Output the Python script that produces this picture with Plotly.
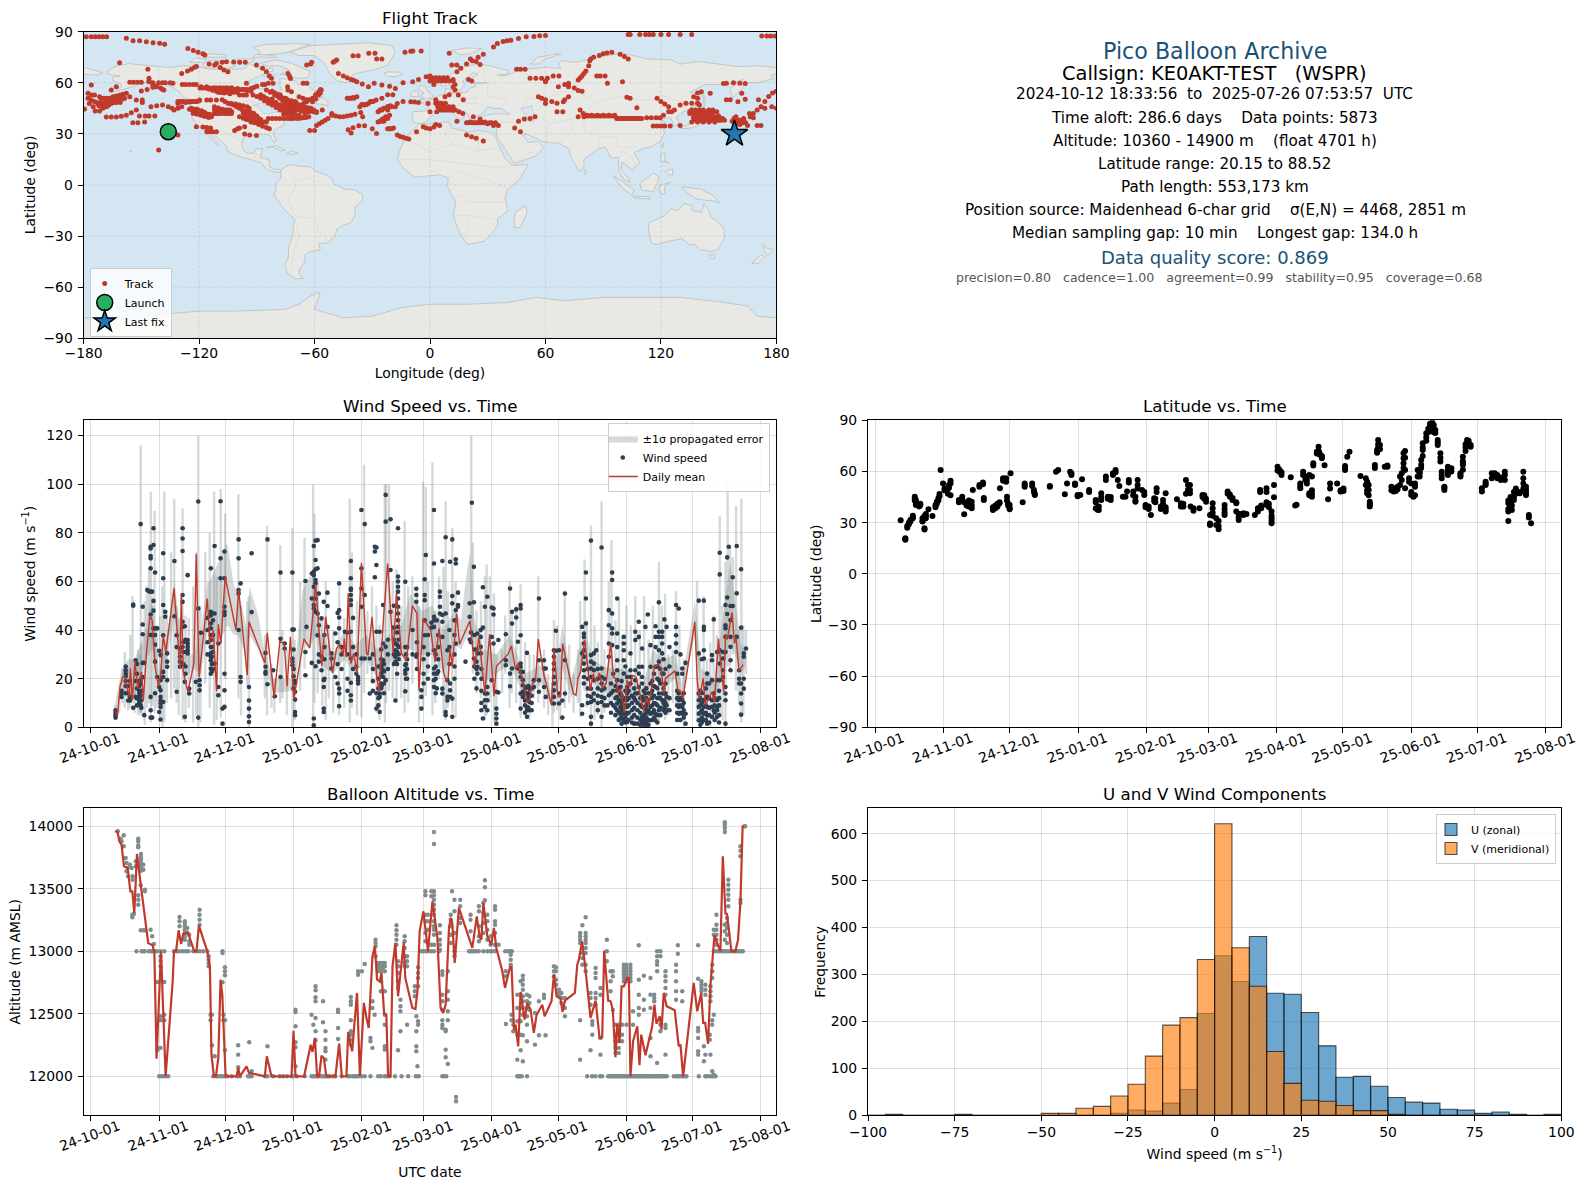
import pandas as pd
import plotly.graph_objects as go

# time series x values are days since 2024-10-01
base_date = pd.Timestamp("2024-10-01")
month_days = [0, 31, 61, 92, 123, 151, 182, 212, 243, 273, 304]
month_labels = ["24-10-01", "24-11-01", "24-12-01", "25-01-01", "25-02-01", "25-03-01",
                "25-04-01", "25-05-01", "25-06-01", "25-07-01", "25-08-01"]

track_points = [
    (-178.6,87),(-176,87),(-174,87),(-172,87),(-170,87),(-168,87),(-157.8,86.1),(-154.3,84.7),(-150.9,84.7),(-147.4,84.1),
    (-143.9,83.5),(-140.5,83.2),(-137.9,82.6),(-125.8,80.2),(-123,78.9),(-120.5,78),(-118,77),(-117,76.3),(-161.3,71.8),(-146.6,67.9),
    (-129,65.5),(-126,66.9),(-124,68),(-122.3,69.2),(-121.4,69.5),(-114.8,71),(-111,71.4),(-108,72),(-105.8,72.4),(-102,72.2),(-98.9,72),(-96,72),
    (-111.9,70.4),(-109,69),(-107,67.5),(-105,66.5),(-90.2,70.4),(-87,68.5),(-85,66.5),(-83.5,64),(-82.4,62.6),(-73.8,65.5),(-73,64),(-72.5,62.5),
    (-64.1,70.4),(-62,71),(-61.5,72),(-48.5,73.4),(-49.5,72.7),(-50.3,72),(-40,75.9),(-37.3,75.9),(-31.8,77.3),(-28.6,77.3),(-27.7,74),(-25,74),
    (-13,77.9),(-10,78.5),(-8.9,78.7),(-4.6,78.6),(-47.6,65.5),(-45,64),(-43,63),(-41,62),(-39.7,61.5),(-38,60.6),(-35.2,59.3),
    (-156,60.3),(-154,60.3),(-152,60.3),(-150,60.3),(-146,62.6),(-146,61),(-144,60),(-141,60),(-139,60),(-137.5,60),(-135,60),(-133.6,59.7),(-176,58.7),
    (-146,60.6),(-144,59),(-142,58),(-140,57),(-139,56),(-138.3,55.8),(-150,55.2),(-147,56),(-144,57.4),(-142.4,57.7),
    (-128.7,59),(-127,59),(-125,59),(-123,59),(-121.5,59),(-119,57.7),(-116,57.7),(-112,57),(-109,57),(-106,57),(-103,57),(-100,56.7),(-97,56),(-95,55.5),(-93,55),
    (-115,56.3),(-113,55.6),(-111,55),(-109,54.5),(-107,54),(-104,53.5),(-99,52.8),(-97,52.8),(-95.4,52.8),(-92,52.8),(-95.4,59.7),
    (-93,56.7),(-91.5,57.3),(-90,58),(-87,59),(-85.9,59),(-84,59.7),(-81.6,59.7),
    (-85,55.8),(-83,54.5),(-80.7,52.8),(-79,52),(-78,50.9),(-76.5,49.5),(-75.5,48),(-74,47),(-73,46),(-71,45),(-69.4,44),(-76,46),(-74.5,45),(-73,44),(-71,43),
    (-69.4,48),(-68,47),(-66,46),(-64,45.5),(-62,45),(-60.5,44),(-59,43),(-56,44),(-61,48.9),(-59.5,50.5),(-58,52.8),(-57,54),(-56.5,55.8),(-61,51),(-64,50),(-66,51),(-68,51.8),
    (-74,57.7),(-73.8,55.8),(-72,54.8),(-65.9,59.7),(-64,59.7),(-82,50.5),(-80,48.5),(-78,47),(-76,45),(-74,43),(-72,42.5),(-70,46),(-67,43.5),(-65,42),(-63,43),(-78,53),(-75,51),(-72,49.5),(-70,49),
    (-177.7,53.8),(-176,52.8),(-174.3,52.8),(-171.7,51.8),(-177.7,50.9),(-176,49.9),(-174.3,48.9),(-172.5,47.9),(-177,47.9),(-175,46),(-179.5,44.6),(-174,43.4),(-171.7,43.4),
    (-170,45),(-168.2,46),(-167,47),(-165.6,47.9),(-164,48.7),(-162,49.5),(-160.4,50.2),(-158.7,50.9),(-156,51.8),(-164.7,51.8),(-163,52.3),(-161,52.8),(-159.5,53.3),(-157.8,53.8),(-165.6,55.8),(-163,57.7),
    (-163,50),(-152.6,49.9),(-149.5,49.9),(-149.5,48.5),(-168.2,39.9),(-165.6,39.9),(-163,39.9),(-160.4,40.3),(-157.8,41),(-155.2,42.4),(-152.6,44),
    (-151,40.5),(-148,40.5),(-146,40.5),(-143,40.5),(-154.4,36.5),(-151.8,36.5),(-148.3,37),(-145,46),(-142,46.5),(-139,47),(-136,46),(-134,45),
    (-131,47.9),(-127,48.5),(-125,48.8),(-123,49),(-120,49.5),(-119.7,49.9),(-133,44),(-131,45),(-129,46),(-124,45),(-122,44),(-120,43.5),(-118,42.5),(-117,41.9),(-116,41.3),(-114.5,40.7),(-113.6,40),
    (-123,42),(-121,41.5),(-119,41),(-117,40.3),(-115,39.7),(-116,49.9),(-114,49.9),(-111,49.9),(-112,46),(-110,45.2),(-108,44.5),(-106,43.5),(-105,43),(-103.2,42),(-111,42),(-109,42.5),(-106.7,43),
    (-103.2,47.9),(-101,47.5),(-99,47),(-97,46.5),(-95,46),(-94,45),(-99,40),(-97,39.2),(-95.4,38.5),(-93,37.5),(-91,36.5),(-89,35.5),(-87,34.5),(-85,33.7),(-83.5,33),
    (-97,42),(-95,41.5),(-93,41),(-91,40),(-89,39),(-84,39),(-82,39),(-80,39),(-78,39),(-76,39),(-74,39),(-72.5,39),(-71,39),(-69,39),(-67.5,39.2),(-66,39.5),(-64.5,39.7),(-63,40),
    (-59,35),(-57.5,36),(-56,37),(-54.5,38),(-53,39),(-51,42),(-51,41),(-49,40.5),(-47,40),(-45,40),(-43,40.5),(-41,41),(-39,41.5),(-36,42.5),(-35,40),
    (-121.4,34.2),(-118,34),(-116,33.8),(-114,33.5),(-116,31.3),(-114.5,31.3),(-113,31.3),(-111,31.3),(-101.5,32),(-100,33),(-99,33.5),(-96.3,34.2),(-96.3,30),(-93.7,29.3),(-90.2,29),
    (-62.5,32),(-60,32),(-42.5,32.5),(-41,30.5),(-40,33.6),(-37,34.8),(-34,34.8),(-30,33),(-27.8,30.3),(-27,43),(-25.5,44),(-24,45),(-22,46),(-20.6,46.5),(-17,47.9),(-14,49),
    (-27,37),(-25,38.5),(-23,40),(-21,41),(-21,33),(-19,33.5),(-32,57.7),(-29,59.7),(-25,58.7),(-21,58),(-18,56.7),(-14,60),(-9,60.6),(-6,62),(-2,63.5),(0,64),
    (-43,50.9),(-40,51.3),(-38,51.8),(-36.5,46),(-34,47),(-32,47.9),(-30,49),(-28,49.9),(-25,50.9),(-22,53),(-19.3,53),(-17,29.3),(-15.5,28.5),(-14,28),(-12.5,27.5),(-11,27),(-7,31.3),(-3.5,34.2),(-10,48.9),(-8,48.7),(-6,48.5),(-1,47.9),
    (-141,20.5),(-131,29.3),
    (33,81),(35,83),(38,84.3),(40,84.7),(42,85),(46,86),(50,87),(54,87.2),(57,87.6),(60,87.8),
    (103,88.4),(104,88.4),(109,88.4),(112,88.4),(114,88.4),(116,88.4),(120,88.4),(124,88.4),(130,88.4),(136,88.4),(172.4,87.5),(175,87.5),(177,87.5),(179.4,87.5),
    (10,77.3),(27.7,76.7),(25,75),(22,73),(19,71),(16,68.5),(14,66.5),(21,74),(24,72.5),(26,70.8),(11.3,70.4),(13.9,70.4),(45,67.9),(47,67.9),(49.4,67.9),
    (52,62.6),(55,62.6),(58,62.6),(61,62.6),(64,64),(67,64),(60,61),(60,60.6),(0,63.5),(4,62.6),(8,62),(12,62),(13,59),(12,57.5),(2,59),(21.7,61),(20,62),
    (66.7,57.7),(70,59),(72,59.7),(72,57.7),(75,57),(79,55),(77,55.5),(56.3,51.8),(58,51),(60,50),(60,47.9),(63.3,49),(66,48),(69.3,48.9),(72,51.8),(70,50),
    (77,61.6),(78,62.8),(79,64),(80,65.5),(81,67),(82.5,70),(83,73),(83.5,74),(85,75),(88,76),(90,77),(92,77.5),(94.5,78),(98.8,76.7),(101,75.5),(103,74),
    (86.7,64),(88.5,64),(91,64),(92.2,59.7),(100,60.6),(102.3,51.5),(104,51),(66,43),(69,43),(107.5,45.4),(118,50.9),(120,49),(122,47.5),(124,46),(125.5,43),
    (78,44),(79.6,42),(80,40),(77,40),(81.5,41),(84,41),(87,41),(90,41),(93,41),(96,41),(99,39),(101,39),(103,39),(105,39),(107,39),(109,39),
    (112.6,39.5),(115,39.5),(117.5,39.5),(119.6,39.5),(116,34.6),(118,34.6),(120,34.6),(122,34.6),(124.8,34.6),(121.3,41),(124,43),(127,44),(130,35),(135,42),
    (130,47),(133,48),(136,48),(139,48),(137,51.8),(139,54),(141,54.8),(145.6,53.8),(139,50.9),(140,47),(140,43),(135,43),(138,43),(141,43),(144,43),(147,43),(149,43),
    (137,40),(140,40),(143,40),(146,40),(149,40),(140,38),(143,38),(146,38),(150,38),(153,38),(136,37),(139,37),(142,37),(145,37),(148,37),(138,41.5),(141,41.5),(144,41.5),
    (152.5,59.6),(154,59.8),(157.7,60),(161,59.8),(163.8,59.6),(162,53.8),(154,50),(156,50),(160,48.9),(163.8,50.3),
    (159,40),(160.5,38),(162,37),(163,39),(160,36.5),(158,39),(157,37.5),(161,35.5),(165,35),(170,35),(172,35),(166.4,40),(168,42),(170,44),(172,46),(174,49),(176,52),(178,54),(180,55),
    (170.7,50),(174,45),(177.6,46),(180,45),(166,42),(168,39.5),(0,43),(3.5,43),(3,50),(5,48),(7,47),(9,45.5),(12,44),(15,43),(17,42),(14.7,52.8),(17.3,50),
    (7.8,51.8),(10,53),(13,55.8),(0,33),(2,34),(5,35),(3,35.5),(-2,33.5),(14,37.5),(21,37),(24,36.5),(27,37),(30,36),(33,35),(35.5,35),(22.5,40),(26,38.7),(28.6,37),
    (19,29.3),(21.6,28.3),(24,27.4),(27.7,25.8),(44,33.5),(47,31.3),(46,37.5),(49,38.7),(52,39),(54.6,40),
]
# thick strokes of the track, latitude then the longitudes seen along it
track_rows = [
    (57,[-119.5,-118,-116.5,-115,-113.5,-112,-110.5,-109,-107.5,-106,-104.5,-103]),(56,[-113,-111.5,-110,-108.5,-107,-105.5,-104,-102.5,-101,-99.5,-98,-96.5,-95]),(54.5,[-110,-108.5,-105.5,-103,-101.5,-100]),
    (44,[-112,-111,-110,-109,-108,-107,-106,-105,-104]),(43,[-111,-110,-109,-108,-107,-106,-105,-104,-103]),(42,[-112,-110.5,-109.5,-108,-106.5,-105.5,-104.5]),
    (44.5,[-125,-124,-123,-122,-121]),(43.5,[-123,-122,-121,-119,-118.5]),(42.5,[-121,-120,-119,-117]),(41.5,[-119,-118,-117,-115.5,-114.5]),(40.5,[-117.5,-116.5,-115.5,-113.5]),(49,[-131,-130,-129,-128,-126,-124,-122,-121]),
    (51,[-171,-169.5,-168,-166.5,-165,-163.5,-162,-160.5,-159]),(48.5,[-173,-171,-169,-167.5,-166,-164.5,-163,-161]),(46.5,[-172,-170.5,-169,-167.5]),
    (37,[-93,-92,-91,-90,-88.5,-87,-86,-85]),(38.5,[-94,-93,-92,-90.5,-89.5,-88]),(40.5,[-96,-95,-94,-92.5,-91.5,-90]),
    (44,[-26,-25,-22]),(46,[-22,-20,-18]),(47.3,[-35.5,-34,-33]),(49,[-31,-29.5]),(51,[-42,-41,-39.5]),(37.5,[-26,-25,-24]),(39,[-24,-23,-22]),(33,[-22,-21,-20]),
    (44,[136,138,140,142,145,147]),(42.5,[137,140,143,146]),(40.5,[138,141,144,147,150]),(39,[137,139,141,143,145,147,150,152]),(38,[138,141,145,148,151]),(36.5,[159,160,161,162,163,164]),(38,[158,159,161,162,163]),
    (40.5,[81,82.5,84,85.5,87,88.5,90,91.5,93,94.5,96]),(39,[97,98,100,102,104,106,108,110]),(44,[5,6,7,8,9,10,11,12,13]),(46,[4,6,8,10,12]),(48,[3,4.5,6,8]),(61,[0,2,4,6,8,10,12]),(63,[1,3,5,7,9]),(36.5,[19,20,22,23,25,26,28,29,31,32,34]),
]
# diagonal streaks over Canada and the north west Atlantic
track_streaks = [
    (-88,53),(-86.5,52),(-85,51),(-83.5,50),(-82,49),(-80.5,48),(-79,47),(-77.5,46),(-76,45),
    (-82,55),(-80.5,54),(-79,53),(-77.5,52),(-76,51),(-74.5,50),(-73,48),(-72,47),(-70.5,46),(-69,45),(-67.5,44),
    (-74,50),(-72.5,49),(-71,48),(-69.5,47),(-68,46.5),(-66.5,45.5),(-65,44.5),(-63.5,44),(-62,43.5),(-60.5,43),(-59,42.5),
    (-57,56),(-58,54.5),(-59.5,53),(-62.5,50),(-64,49),(-65.5,48),(-67,47),(-76,41.5),(-74,41.5),(-72,41),(-70,41.5),(-68,41),
    (-108,50),(-106.5,49),(-105,48),(-103.5,47.5),(-102,47),(-100.5,46),(-99,45),(-97.5,44),(-96,43.5),(-94.5,43),(-93,42.5),(-91.5,42),
    (-90,52),(-88,51),(-86,49.5),(-84,48),(-82,47),(-80,45.5),(-78,44),(-76,43),(-74,42),
]
launch_lon = [-136.0]
launch_lat = [31.3]
last_lon = [158.2]
last_lat = [30.0]

# land outlines, longitude then latitude
land_outlines = [
    [(-168,65.5),(-166,68.3),(-162,70),(-156.5,71.3),(-150,70.5),(-141,69.7),(-135,69),(-128,70),(-120,69.5),(-115,68),(-108,68),(-101,68),(-96,68.5),(-94,71.5),(-90,69),(-86,67.5),(-82,69),(-81.5,67),(-87,65),(-94,61),(-94.5,58.7),(-92.5,57),(-88,56.5),(-82.5,55),(-82,52.5),(-79.5,51.5),(-79,54.5),(-77,56),(-78,58.5),(-78,62.5),(-73,62),(-70,61),(-68,58.5),(-65,60),(-61.5,56.5),(-57,53),(-56,51.5),(-60,50),(-66,50),(-65,48.5),(-65,47),(-61,46),(-64,44.5),(-66,44),(-67,45),(-70,43.5),(-70,41.7),(-74,40.5),(-76,37),(-75.7,35.3),(-78,34),(-81,32),(-81.5,30),(-80,26.7),(-80.5,25),(-81.8,26),(-83,29),(-85,29.7),(-89,30),(-90,29),(-94,29.5),(-97.3,27.5),(-97.8,22.5),(-95.5,18.8),(-91.5,18.5),(-90.5,21),(-87,21.5),(-88,16),(-83.5,15),(-83.5,11),(-81,9),(-79.5,9.5),(-77.4,8.5),(-78,7.5),(-80,7.5),(-83,8.3),(-85.7,10),(-87.5,13),(-92,14.5),(-96,16),(-101,17.5),(-105.5,20),(-105.5,22.5),(-109,26),(-112.5,30),(-114.7,31.7),(-113,28),(-110,24),(-110,23),(-112,25),(-115,28.5),(-117,32.5),(-120.5,34.5),(-122,37),(-124.3,40.5),(-124,46),(-125,48.5),(-123,49.5),(-127.5,51),(-130,54.5),(-133,57),(-137,59),(-141,60),(-146,60.8),(-149,60),(-152,59),(-153.5,58),(-158,56.5),(-163,55),(-160,58.5),(-162,60),(-165,61.5),(-165,63),(-161,64),(-165,64.5)],
    [(-80,73.5),(-72,71.5),(-67,69),(-62,66.5),(-64,63),(-69,62.5),(-74,64.5),(-78,65),(-73,67.5),(-78,70),(-85,70),(-88,71.5)],
    [(-90,76.5),(-85,76.5),(-78,77),(-72,78.5),(-62,82.5),(-70,83),(-85,82.5),(-92,81),(-88,78)],
    [(-117,69),(-105,68.5),(-101,70),(-105,73),(-115,73),(-118,71)],
    [(-125,72),(-118,72),(-116,74),(-122,74.5)],
    [(-92,75),(-80,75),(-81,76),(-90,76.8)],
    [(-100,72),(-93,72),(-91,74),(-100,74)],
    [(-118,75),(-106,75),(-106,76.5),(-115,77)],
    [(-87,64),(-81,63.5),(-80,64.5),(-85,66)],
    [(-59,47.7),(-53,46.7),(-53,49),(-56,51.5),(-59,49)],
    [(-73,78.2),(-68,80),(-62,81.8),(-50,82.5),(-32,83.5),(-20,82),(-18,78),(-20,74),(-22,70.5),(-27,68.3),(-35,66),(-40,65),(-43,60),(-48,61),(-52,65),(-54,69),(-55,71.5),(-60,76),(-68,76)],
    [(-24,65.5),(-22,66.4),(-16,66.3),(-14,65),(-18,63.5),(-22,63.8)],
    [(-10,52),(-6,52),(-6,55),(-8,55.2),(-10,54)],
    [(-5.5,50),(1,51),(1.5,52.7),(-1,54.5),(-2,56),(-2,57.6),(-5,58.6),(-6,56.5),(-3,54),(-4.5,53),(-5,51.7),(-3,51.4)],
    [(11,79),(20,80.5),(27,80),(21,77),(16,76.5)],
    [(52,71),(56,71),(60,74),(68,76.8),(66,77),(56,75)],
    [(-85,22),(-80,23),(-75,20.5),(-77.5,20),(-82,22.5)],
    [(-74.5,18.5),(-72,20),(-68.5,18.7),(-71,18)],
    [(-156,19.5),(-155,19.5),(-155.5,20.2)],
    [(-77.4,8.5),(-75,11),(-72,12),(-68,11),(-62,10.7),(-60,8.5),(-54,5.8),(-51,4),(-50,0.5),(-44,-2.5),(-39,-3),(-35,-5.5),(-35,-9),(-39,-13),(-39,-18),(-41,-22),(-46,-24),(-48.5,-26),(-49,-29),(-53,-34),(-58,-34.5),(-57,-38),(-62,-39),(-65,-41),(-65,-45),(-68,-50),(-68,-52.5),(-65.5,-55),(-70,-55),(-74,-52),(-75.5,-47),(-73.5,-42),(-73.5,-37),(-71.5,-30),(-70.5,-20),(-76,-14),(-81,-6),(-80,-2),(-80,1),(-77.5,4),(-77.5,7)],
    [(-5.5,35.8),(0,35.8),(10,37.3),(11,33.5),(15,32.5),(20,31),(25,32),(32,31),(34,28),(37,21),(39,15.5),(43,11.5),(51,12),(47,4),(40,-3),(39,-8),(40.5,-15),(35,-20),(35,-24),(32.5,-28),(28,-33),(20,-34.8),(18,-33),(15,-27),(12,-18),(13.5,-10),(9,-1),(9.5,4),(5,6),(-4,5),(-8,4.5),(-13,9),(-17,14.7),(-16,20),(-13,27),(-10,31),(-6,35)],
    [(49.5,-12),(50.5,-16),(47,-25),(44,-25),(43.5,-21),(44.5,-16)],
    [(-9,37),(-9.3,39),(-9,43),(-2,43.5),(-1,46),(-4.5,48.4),(-1.5,49),(2,51),(4,52),(8,54),(8,57),(11,56),(10,54),(14,54),(19,54.5),(21,57),(24,58),(23,59.5),(30,60),(23,60),(21,62),(25,65.5),(22,65.8),(17,61),(18,59),(16,56),(13,55.5),(11,59),(6,58),(5,61),(11,65),(16,69),(25,71),(31,70),(41,67),(40,65),(35,64.5),(38,64),(44,66),(44,68),(54,68.5),(60,69),(68,68.5),(67,71),(68,73),(73,72),(75,72),(80,73),(87,75),(100,77.5),(113,74),(125,73.5),(130,71),(140,72.5),(150,71),(160,69.5),(170,70),(180,69),(180,65),(177,64.5),(179,62.5),(170,60),(163,60),(162,56),(157,51),(156,57),(163,62),(155,59),(143,59),(135,54.5),(141,53),(140,48),(132,43),(128,40),(129.5,36),(126.5,34.5),(126,37),(125,39.5),(121,39),(118,39),(122,37),(119.5,35),(122,31),(120,26),(115,22.5),(110,21),(106,19),(109,13),(105,9),(100,13.5),(99,9),(103,4),(104,1.5),(101,3),(98,8),(98,16),(94,16),(91,22.5),(87,21),(80,15),(80,11),(77.5,8),(73,17),(72.5,21),(67,24.5),(61,25),(57,26),(56,27),(50,30),(48,29.5),(51,25),(56,25.5),(59,22),(55,17),(44,12.7),(39,21),(35,28),(34.3,31),(36,36.5),(30,36.2),(27,37),(26,39.5),(29,41),(35,42),(41.5,41.5),(37,45),(33,45),(30,46),(28,43),(26,41),(23,40),(23.5,37),(21,38),(19.5,42),(14,45),(12.5,44),(18,40),(16,38),(10,44),(3,43),(0,39),(-2,37),(-5.5,36)],
    [(-180,69),(-175,67.5),(-170,66),(-173,64.5),(-180,65)],
    [(142,54),(143,50),(142.5,46),(142,50)],
    [(130,33),(132,34.5),(136,36),(140,39.5),(141.5,41),(141.5,38),(140,35),(136,33.5)],
    [(140,42),(142,45.5),(145,43.5),(143,42)],
    [(120,23),(121.7,25),(121,22)],
    [(80,9.5),(82,7.5),(80.5,6)],
    [(120,18),(122,18.5),(122,14),(124,13),(120,14)],
    [(122,8),(126,9.5),(126,6),(124,6)],
    [(109,1),(116,7),(119,5),(118,1),(116,-4),(110,-3)],
    [(95,5.5),(100,2),(106,-3),(105,-6),(100,-2)],
    [(105.5,-6.5),(114,-7),(114.5,-8.5),(106,-7.5)],
    [(119.5,0),(125,1.5),(122,-1),(122,-5),(120,-5.5),(119,-3)],
    [(131,-1),(141,-2.5),(147,-6),(150.5,-10.5),(146,-9),(143,-9),(138,-8),(133,-4)],
    [(114,-22),(113.5,-26),(115,-34),(118,-35),(124,-33),(131,-31.5),(135,-35),(138,-35),(140.5,-38),(146,-39),(150,-37.5),(153,-31),(153,-26),(149,-21),(146,-19),(145,-15),(142.5,-11),(141,-16),(136,-15),(136.5,-12),(132,-11),(129,-15),(125,-14),(122,-18),(118,-20)],
    [(145,-41),(148,-41),(148,-43),(146,-43.5)],
    [(173,-35),(175,-37),(178.5,-38),(175.5,-41.5),(174,-39.5)],
    [(172,-41),(174,-42),(170.5,-46),(167,-46)],
    [(-180,-90),(180,-90),(180,-78),(170,-77),(165,-71),(150,-68.5),(130,-66),(110,-66),(90,-66),(70,-68),(55,-66),(40,-69),(20,-70),(0,-70),(-15,-72),(-30,-77),(-45,-78),(-60,-73),(-57,-63),(-62,-65),(-68,-70),(-75,-73),(-100,-74),(-120,-74),(-140,-76),(-160,-78),(-180,-78)],
]
# inland seas, painted back in ocean colour
sea_outlines = [
    [(47,45),(53,46.5),(54,40),(54,37),(49.5,37.5),(50,40.5)],
    [(-92,47),(-85,48.5),(-80,45),(-76,44),(-79,43),(-83,42),(-87,42),(-88,45)],
]
# faint national borders
border_lines = [
    [(-141,69.7),(-141,60)],[(-123,49),(-95,49),(-88,48),(-83,46),(-82,42.5),(-76,44),(-70,46),(-67,45)],
    [(-117,32.5),(-108,31.5),(-103,29),(-97.5,26)],[(-92,14.5),(-90,18),(-88,18)],[(-70,-18),(-60,-20),(-58,-27),(-53,-33)],
    [(-70,-18),(-74,-8),(-70,-2),(-70,2),(-60,5),(-60,8.5)],[(-70,-20),(-68,-30),(-71,-40),(-72,-50)],
    [(10,37.3),(8,30),(12,24),(25,20),(25,32)],[(-13,27),(0,20),(12,24)],[(25,20),(37,22)],[(-17,14.7),(0,15),(15,13),(24,12),(34,10),(43,11.5)],
    [(9.5,4),(15,8),(24,5),(30,3),(41,-2)],[(13.5,-6),(22,-10),(30,-10),(39,-10)],[(12,-18),(22,-18),(33,-20)],[(20,-18),(20,-28),(17,-29)],
    [(-2,43.5),(3,43)],[(2,51),(8,49),(8,46),(14,47),(17,48),(23,48),(30,46)],[(14,54),(15,51),(24,51),(24,54),(21,55)],[(30,60),(30,52),(40,50),(38,47)],
    [(27,70),(29,62),(28,60)],[(47,42),(50,51),(60,51),(70,55),(77,54),(87,49),(98,52),(107,50),(117,50),(120,53),(127,50),(135,48),(131,43)],
    [(87,49),(80,42),(74,39),(67,37),(61,36),(61,30),(61,25)],[(80,42),(80,32),(88,28),(97,28),(98,22),(102,22),(106,23),(108,21.5)],
    [(74,39),(74,33),(70,28),(68,24)],[(88,28),(88,22)],[(44,37),(46,33),(48,30)],[(36,36.5),(42,37),(44,37),(48,39)],[(44,12.7),(52,19),(56,24)],[(98,16),(100,20),(105,16),(107,11)],
]

wind_columns = [
    (11.3,[7,6,5,4]),(14,[15,14,12.5]),(15.9,[25,23.5,22,21,19,17,14]),(17,[17,14,11]),(17.8,[19,12.5,11]),(19.3,[50,50.5,8]),(20.4,[27.6,19,12.5]),
    (22,[19,17,15,14,12.5,11,10.5,10]),(22.7,[83.6,18,13,9]),(23.6,[49.6,42.3,38.3,26.5,20.7]),(24.3,[26.5,5]),(25.7,[56.5]),(26.4,[56]),
    (27.2,[55.8,46.4,65.4,69.5,70.5,73.6,74.3,38,12.5,7,4]),(27.9,[55.8,38,4]),(28.5,[81.9,75,52,48,40.7]),(29.2,[63.7,40.7,38,34,27,14]),(30.2,[40.7,20.7]),(31.1,[31.5,16.6,6.3]),
    (31.7,[29.7,19.4,15.2,12.5,11,9.8,8.4,3.2]),(32.9,[71.6,61.3,50.3,37.9,22.8,20.7,10.4]),(33.8,[47.5,45.5]),(34.7,[30.4,27,24.9,19.4]),(38,[68.4,45.7]),(39,[37.9,33,14.6]),(40.5,[32.4,29,27,24.9]),
    (41.7,[81.9,77.7,72.5,54.4,51.6,43.4,41.3,33]),(42.7,[41.6,18.7,4.3]),(44,[62.6,35.9,34.5,33,31.7,30.4]),(44.7,[15.9,13.9]),(47.7,[18.7]),(48.8,[92.9,48.9,4]),(49.4,[19.4,17.3,15.2]),(50,[38.9]),
    (54.5,[65.4,47.5,46.8,46,42.7,40.7,37.9,35.9,33,30.4,29,27.6,24.2,22]),(56.2,[74.6,46.8,26.2]),(57.9,[34.5,16.6,13.2]),(58.9,[93,69.5,61.3]),(59.8,[7.7,1.5]),(60.7,[72.3,61.3,49.6,47.5,46.2,22,15.2,8.4]),
    (67.1,[77.3,69.5,56.5,55,40]),(68,[59.2,20.7,18.7]),(71.8,[16.6,11,7.7,4.5,2.2]),(73,[71.6,47.4]),(79.3,[30.6,24.9,22.8,22]),(80.2,[77.3,17.7]),(82.8,[23.5]),(83.5,[12.8]),(86.1,[63.7,36.4,20.7]),(88,[34.5,32.4]),
    (91.5,[63.7,40.2,28.3,27,25.5]),(92.1,[40.2]),(92.7,[18,14.6,11.4,6.3,5,19]),(97.4,[60.2,31,21.4]),(97.9,[41.3]),(100.3,[53,63.3,26.5]),(101.2,[74.6,64,62.6,57.8,50.3,48.9,3.6,0.8]),
    (102,[76.8,68.8,65,60.6,59.2,53,47.5,25.1]),(102.9,[77,65.4,46.8,37.9]),(104.7,[44.8,29,23.5]),(105.7,[51.6,19.4,16.6,7.7,6.3]),(107.4,[55.4,49.9,41.3]),(109.2,[30.4,28.3,24.2]),(111,[38.6,20.7]),
    (112.7,[59.2,48.2,45.2,40.7,15.9,13.9,8.7]),(115.3,[39.3]),(118,[68.4,61.3,57.1,56.5,54.4,52.3,50.3,39.3,28.3,18.3,13.2,11]),(121.3,[20.7,19.4,18]),(122.8,[89.4,65.4,57.1,49.6,28.3]),(124.3,[83.6,54.4,28.3]),
    (126.6,[28.3,13.9]),(128.9,[74.3,72.3,61.7]),(129.6,[66.8,74,39.3,14,7.7]),(131.1,[39.3,13.9,12.5,6.3]),(132.6,[50.3,34.5,27.6,23.5,20.7]),(133.8,[95.6,84.6,33.1,19.4]),(136,[85.6,64.7,47.5]),
    (138.2,[34.5,31.7,29,27,11]),(139.4,[81.9,62,60,57.8,55.8,53,49.6,46.8,44,41.3]),(142.7,[59.9,33,25.5,23.5,22,14.8]),(147.7,[57,54.4,51.6,29]),(150,[15.2,12.5,7.7]),(151.5,[60.9,54.4,52.3,44,37.9]),(152,[70.9]),
    (154.5,[43,41]),(155.7,[89.4,67.4,45.5,44,41.3,31.7,24.2,22.1,19.4,16.6]),(158.4,[55.8,53.7,49.6,46.8]),(159.5,[68.4,46.2,43.4,37.2,15.9,13.9]),(161,[78.2,46.8,6.3,5]),(161.8,[31.7,19.4,12.5,11]),(163,[68.1,18,15.2,12.5]),
    (164,[77.3,54,51,11.8,4.3]),(165.6,[69.1,67.4,48.2,34.5]),(166.6,[55.4,50.3,49.6]),(171.9,[51,45.5,36.1]),(172.9,[92.4]),(173.8,[66,51.4,28.3]),(175.4,[38.6,30.4,24.9,22.1]),(176.9,[40,37.2,33.1,30.4]),(177.9,[57.6,41,3.6]),
    (178.8,[49.6,13.9,11.1,8.4]),(179.9,[53.7,16.6,13.9,11.1,7]),(181.9,[49.3,37.2,19.4]),(182.7,[48.9,46.4,34.5]),(184,[14.6,7.7,5.6,3.6,1.5]),(184.9,[35.9,14.3]),(188.3,[38.3,27.6,25.5]),(190.2,[57.1,22.1,16.9]),(191.1,[47.5,42.7,24.2]),
    (193,[45.2,48.5]),(193.8,[35.2,24.2]),(195,[50.3,48.9,37.9,26.2,24.9,22.8,20.7,13.9,7.7]),(196,[22.8,19.4,17.3,14.6,12.5]),(197.9,[30.6,16.6,13.9,11.1,8.4,7,4.3]),(199,[15.9,13.2,10.4,7]),(201,[19.4,16.6]),
    (203.3,[53,27.6,19.4,14.6]),(205.6,[27.6,24.2,16.6]),(206.4,[24.2,12.5]),(210.1,[31.7,29,26.2,23.8,20.7,18,15.2,12.5,9.8]),(211,[39.7,31.5]),(212.4,[31.7,13.9,9.8]),(213.9,[11,4]),(215.1,[55,27.6,13.9]),
    (222.9,[41.3,30.4,9.1,5.6]),(223.7,[38.6,37.2,34.5,31.7,29,26.2,23.5,20.7,18]),(224.6,[63.7,53,42.7]),(226.9,[76.8,29.7,27,24.2,20.7,15.9,12.5,10.4,4.3,1.5]),(228.2,[30.4,26.2,23.5,19.4,13.9,11.1]),(229.3,[31.7]),
    (231.7,[74,24.2,20.7,18,15.2,12.5,10.4,4.3]),(234.3,[9]),(235,[48.2,42,34.5,29,13.2]),(236.5,[63.7,60.6,46.8,40.7,38.6,33.8]),(238.8,[53,38.6,33,27.6,23.5,19.4,15.2,12.5,9.8,7]),(240.3,[16.6,13.9,11.1,8.4,5.6,3.6]),
    (241.8,[37.2,34.5,31.7,27.6,22.1,11.1,8.4,5.6,2.9]),(243.3,[20.7,16.6,13.9,11.1,8.4,5.6,2.2]),(244.8,[30.4,23.5,20.7,18]),(247,[39.3,35.9,23.5,19.4,13.9,11.1]),(248.6,[43.4,37.2,24.9,22.1,16.6]),
    (250.1,[32.4,24.9,20.7,18,12.5,8.4,4.3,2.2]),(251.6,[41.3,13.9,8.4,5.6,2.9,1.5]),(252.7,[46.4,10,6,3]),(253.9,[33.8,24.9,18,13.9,8.4,5.6,2.9]),(256.2,[41.6,37.2,33,24.9,16.6,9.8,5.6,2.9]),(257.7,[51.4,39.3,37.2,31.7,27,19.4,13.9,7]),
    (259.2,[39.3,37.2,34.5,30.4,22.1,13.9,11.1]),(260.2,[44.4,13.9,11.1,8.4]),(261.2,[41.3,12.5,9,7]),(265.5,[50.3,41.3,37.9,34.5,31]),(266.7,[48.9,13.9,11.1,8.4,5.6]),(268.3,[24.2,22,11.1,8.4,5.6]),(269.8,[26.5,5.6,1.5]),
    (275.8,[52.1,30.4,13.9,11.1,8.4,5.6,2.9]),(278.1,[52.1,41.3,40,31.7,28.3,11.1,8.4,5.6,2.9]),(279.6,[22.1,18,12.5,8.4,4.9,1.5]),(281.8,[29.7,27.6,19.4,11.1,8.4,4.3]),(282.6,[44.4,13.9,11.1,7]),(284.1,[31,19.4,11.1,8.4,7,4.3]),
    (285.3,[71.8,62.9,31.7,26.2,19.4]),(286.8,[31,28.3,23.5,20.7]),(287.9,[50.3,42,40.7,37.2,31,16.6,13.9,11.1,1.5]),(288.7,[69.9,53.4,46.6]),(289.4,[74.3]),(290.2,[49.9,44.1,37.2,33.1,27.6,23.5]),(291.2,[61.7,49.9]),
    (293,[74.6,55.1,37.2]),(294.1,[23.5,20,18]),(295,[65,41,18,13.9,9.8,5.2]),(296.2,[30.4,29,20,15.9]),(297.2,[32.4]),
    (236,[18,14,10,6]),(237,[22,15,9]),(238,[17,12,8,5]),(239.5,[16,11,6,3]),(240.8,[19,13,10,7,4,1.5]),(242.5,[25,15,12,9,6,4,2]),(244,[15,12,9,6,3]),(245.5,[13,10,7,4,2]),(246.5,[16,12,8,5,1.5]),(248,[14,10,7,4,1.5]),(249.3,[12,9,6,3,1]),(250.8,[15,11,8,5,3,1]),(252,[16,12,9,7,4,2,1]),(253,[14,11,7,3,1]),(254.7,[19,15,12,9,6,3]),(255.5,[22,17,13,10,7,4]),(257,[25,20,16,12,9,5,2]),(258.3,[24,18,12,8,5]),(259.8,[28,22,16,10,7]),(260.7,[24,18,14,10,6]),(262.5,[33,25,12,7]),
    (266,[22,15,12,9,6,3]),(267.5,[30,12,9,6,3]),(269,[14,10,7,4]),(276.5,[15,12,9,6,3,1]),(277.2,[28,14,10,7,4,2]),(279,[16,12,9,6,3]),(280.5,[18,12,8,5,2]),(283,[12,9,6,3]),(285,[15,12,9,5,2]),
    (225.5,[24,20,16,13,10]),(230,[24,20,16,13,10,7]),(233,[20,16,12,9]),(197,[16,14,11,9,6]),(198.5,[17,14,12,8]),(200,[16,13,10,7]),(156.5,[30,25,20,14]),(157,[44,22,16]),(174,[38,32,25,20]),(175,[32,27,24,16]),(177.2,[24,20,15,10,7]),(21,[26,22,16,12,9]),(23,[20,15,11,8]),(43,[36,31,25,22]),(55,[38,33,29,26,23]),(133,[26,23,18,14]),(130.5,[25,20,16,12,9]),(128,[30,24,19,15]),(143.5,[33,28,24,20]),(139,[39,34,31,26,22]),
    (42,[35,31,26]),(53,[45,40,35,30]),(55.5,[44,38,31,24]),(92,[32,24,21,16]),(103.5,[55,42,30,27]),(106,[38,33,28,20]),(112,[47,35,26,18]),(113.8,[33,30,24]),(116.5,[39,30,20,15]),(119,[45,33,24]),(120.5,[30,25,22]),(131.8,[32,28,25,22,18,16]),(132,[26,24,21,17]),(134.8,[36,30,24]),(137.5,[50,41,36,30,26]),(139.7,[36,33,30,28]),(143,[30,26,20]),(146,[40,30]),(148,[35,30,24]),(151,[33,28,22,18]),(153,[38,30,25,20]),(157.6,[38,33,28,23]),(162.7,[40,33,26]),(165,[44,38,30,25,20]),(170,[27]),(172.5,[39,35]),
]
wind_mean_day = [11,12.2,13.3,14.5,15.3,16.8,17.5,18,18.9,20.1,21.3,23.1,23.9,25.4,26.9,27.9,29.2,30.7,31.7,32.9,34.1,37.8,39.4,40.5,41.1,42,44.1,46.8,47.9,49.2,52.9,54.1,55.6,57.1,57.9,59.1,61,65.9,67.1,71,71.8,79,80.1,83.2,85.8,87.8,89.1,90.6,92.1,96.7,99.4,102,104.8,106.6,109.7,111.5,113,114.5,115,115.9,116.8,118,119.3,120.8,122.8,125.1,125.8,127.6,129.6,130.8,132.9,134.7,137.2,138.7,140.9,143.2,145.9,148,148.9,150.8,154.2,156.2,158,160,161.3,162.2,163,164,166,167.3,172,174.1,176.1,178.8,180.9,182.9,184,189.3,190.8,192.7,193.8,197,198,199.1,200.3,201.8,203,205.6,209,210.1,211.9,213.1,214,216.1,218.9,220.1,221,222.2,224,226.7,227.9,229,230.8,232,233.8,235.9,237.1,238.2,239.1,240.3,242.1,243.3,244.4,245.9,247.4,250.9,252.1,253.1,255.7,257.7,258.7,260,260.7,265,266.3,267.5,268.6,274,275.1,276,277.8,278.8,281.8,282.9,284.7,287.1,287.9,288.7,290.9,292,292.7,294,295.9]
wind_mean_val = [7,4.9,16.6,20.7,21,15.9,12.5,24.2,11.1,27.6,15.9,22.8,11.1,31.7,45.7,44.1,24.9,16.9,20.7,37.9,31,57.2,35.9,24.2,54.7,22.8,14.5,26.2,71.3,20.7,53,34.5,40,14.8,42.4,34.5,62,40,56.7,21.4,43.4,26.5,38.9,12.5,35.3,34.5,16.9,37.2,11.4,36.4,32.7,58.9,25.1,45.5,22.4,32.4,34.2,29.7,36.5,29,55.1,26.2,30.4,22.1,67.7,30.4,29.7,45.5,22.1,14.5,46.1,67.4,30.4,55.1,30.4,27.7,50,46.8,15.2,44.8,40,26.9,40.7,22.8,19,20.7,32.4,24.9,46.8,34.2,43.8,24.9,37,13.9,38.3,12.8,25.1,30.1,33.5,23.8,26.5,13.9,10.7,11.1,18,19.4,36.3,21.4,9.1,32.4,12.5,12.5,34.5,25.5,13.9,13.2,20.1,22.8,35.9,15.2,22.1,18.7,22.4,15.9,18,34.8,20.5,20.1,13.9,15.9,6,19.4,16.6,21.4,20.7,6.3,12.2,9.1,24.9,25.8,24.2,13.9,20.1,23.2,15.2,15,11.8,43.4,19.4,11.8,20.1,9.1,14.6,10.4,36.5,14.6,38.3,36.1,47.3,34.5,37.2,23.2,25.8]
# propagated error stripes: day, low, high
band_rows = [
    (11,3,9),(13,6,13),(14.5,10,24),(15.5,8,31),(17,7,25),(18,8,38),(19,10,54),(20,6,26),(21.5,5,32),(22.3,6,30),(22.7,5,116),(23.1,6,34),(24.5,1,52),(25.5,8,58),(26.5,10,66),(27.3,2,97),(28,9,50),(29,6,89),(30,8,42),(31.5,4,46),(32.5,0,58),(33.4,2,97),(34.5,10,48),(36.5,12,72),(37.9,16,94),(39,10,50),(40,5,45),(41.7,3,90),(43,2,46),(44.5,8,45),(46.5,2,58),(47.9,5,72),(48.8,0,120),(49.8,2,50),(52,18,72),(54,8,80),(56,1,97),(57.2,3,62),(59,4,98),(61,20,88),(67,12,96),(68.2,5,50),(71,17,52),(71.8,0,54),(79,12,38),(80,5,83),(82,8,26),(83.3,6,20),(86,10,75),(87,12,40),(89,5,32),(91.5,0,82),(92.5,3,36),(95,15,60),(97,24,78),(100.9,0,100),(101.5,10,88),(103,14,60),(105,9,44),(106.6,3,60),(108,12,42),(110,6,40),(112.7,5,58),(115,8,45),(117.5,2,94),(118.5,8,72),(120.8,5,52),(122.8,4,60),(124,14,108),(125.5,22,48),(127.6,18,58),(129.6,6,50),(131,3,42),(133.4,2,100),(134,10,100),(135.3,15,100),(137,12,60),(138.7,10,65),(140.9,12,50),(142.4,6,85),(144,10,58),(145.9,18,62),(148,24,56),(148.9,2,50),(150.8,8,101),(152,13,99),(153,22,60),(155,5,109),(156.3,10,48),(158,20,62),(160,5,66),(161,3,93),(162,8,56),(164,6,82),(165.5,4,60),(172.6,40,120),(173.3,22,76),(175,14,48),(177,12,52),(178.8,3,62),(179.6,5,67),(181,10,62),(182.9,2,55),(184,7,30),(186.6,14,32),(188,22,46),(190,8,60),(191,14,48),(193,10,50),(195,4,59),(197,6,35),(199,3,30),(201,12,30),(203,10,62),(205.6,8,32),(207.5,5,22),(209.4,0,18),(210.1,6,44),(211.5,7,42),(213,3,30),(215,8,56),(217,10,34),(219,6,22),(221,10,32),(222,4,52),(224,15,69),(225,8,44),(226.9,0,83),(228.5,3,42),(230,5,35),(231.7,0,93),(233,6,32),(235,8,60),(236.2,10,77),(238,4,44),(239.6,2,53),(241,0,38),(243,0,50),(245,4,42),(247,2,54),(249,3,40),(251,0,54),(253,0,36),(255,2,50),(257.7,2,68),(259,4,50),(260.5,3,55),(262,5,30),(264,10,32),(265.5,8,56),(267,2,42),(269,0,28),(275,2,60),(276,2,30),(278,2,54),(279.5,1,28),(281,0,35),(282.5,2,46),(284,2,38),(285.3,6,87),(286.5,3,50),(287.9,0,68),(288.9,25,100),(290,24,75),(291.2,30,70),(292.7,15,91),(294,10,40),(295.1,2,94),(296,5,42),(297.2,22,40),
]
# error band body where the samples are sparse: day, low, high
band_body = [
    (11,4,9),(14,14,24),(17,12,28),(20,12,28),(25,28,40),(28,32,55),(31,14,22),(35,30,40),(38,45,60),(42,20,30),(47,24,30),(50,22,40),(53,40,60),(54,30,60),(57,35,66),(60,38,72),(62,42,76),(65,38,58),(67,38,56),(71,28,40),(72,38,58),(76,32,46),(79,24,30),(83,14,20),(92,15,20),(96,36,56),(99,32,62),(102,38,62),(105,25,38),(110,22,30),(115,28,40),(120,22,34),(125,28,38),(130,20,32),(137,28,40),(141,30,42),(145,32,55),(150,30,48),(155,30,50),(160,22,40),(165,34,48),(168,32,44),(170,36,60),(172,38,72),(174,30,44),(178,18,32),(184,22,30),(190,26,38),(197,12,22),(205,18,26),(209,8,14),(214,24,42),(218,12,20),(224,28,40),(228,18,28),(232,15,25),(238,12,24),(243,12,24),(250,8,16),(255,20,32),(260,16,28),(265,20,30),(268,12,18),(274,38,52),(277,14,24),(283,12,20),(286,20,40),(290,36,68),(295,22,34),(297,25,32),
]

lat_columns = [
    (11.6,[31.4]),(13.7,[20.8,20,20.4]),(14.6,[28,27]),(15.3,[29,30]),(16,[30.6,31.5]),(17.1,[32.5,34,33]),(18,[45.2,44,43]),(18.5,[43.3,41.5,40.4]),(20,[40.4,39.5]),(20.5,[40.4,41]),(21.5,[32.5,31,30.6]),(22.4,[33.9,32.5,26.7,26]),(23,[33.9,32.5,35]),(24.2,[37.8]),(26,[33.9]),
    (27.4,[40.4,39]),(28,[42.3,41]),(28.7,[44.3,43]),(29.2,[46.8,45.5]),(29.7,[60.9]),(30.8,[53]),(31.5,[50,49]),(33,[50,47]),(33.5,[52,50.5]),(34.2,[54.6,53,46]),(38,[43.3,42]),(39.5,[45.2,43.5]),(40.4,[34.9,42]),(41.5,[41.3,40]),(42.5,[39.4,41,43]),(43.8,[42.3,38.5,40]),(44.3,[49.2]),
    (47.3,[52,51]),(48.9,[53.5,52.5]),(49.3,[43.3,44.5]),(53.4,[37.4,39]),(54.5,[38.5,40]),(55.5,[39.4,41]),(56.4,[41.3,42]),(56.6,[50.1]),(58,[56,54.5]),(59.4,[54,56]),(59.8,[45.2,43]),(60.3,[41,40]),(61,[40.4,37.8,38.5]),(61.4,[58.9]),(66.9,[41.9]),(67.8,[53,51,52]),(71.2,[53,51.5]),(72,[49.2,48]),(72.4,[46.2,47]),
    (79.2,[51.5,51]),(82,[59.9]),(83,[60.9]),(86,[46.6]),(87,[53]),(88.4,[59.9]),(89,[58,59]),(90.6,[53,52]),(91.8,[46.2,45.5]),(93,[46.2]),(93.8,[55.4]),(97,[49.2,48]),(100,[43.3,42,38.4]),(100.8,[37.5,38.5]),(101.4,[39.4,37.4]),(102.5,[47.2,45,43.3]),(104.6,[57,55]),(105.5,[45.2,44]),(106.8,[43.3,45]),
    (107.8,[58.9,58]),(109,[60.9,59.5]),(110,[55]),(110.7,[51.5]),(112.3,[45.2]),(113.5,[45.2]),(114.2,[48.2]),(115,[55,53.5]),(117,[48.2,46]),(118,[45.2,43,42.3]),(119,[55,52,50]),(121,[49.2]),(122,[46.2,48]),(122.6,[40.4,39]),(124,[38,39.5]),(125,[34.5]),
    (126.5,[44.3,42.5]),(127,[42,44]),(127.6,[50.1,48]),(129.5,[39.4,38]),(130.5,[43.3,41]),(131.7,[47.2,36.5,37.5,39]),(136.8,[43.7]),(138.6,[41.3,39.4]),(139.7,[39.4,41]),(140.9,[55,47]),(141.8,[52,49.2]),(142.7,[47.2,49.2,52]),(143,[39.4]),(144.3,[37,38.5]),(147,[38.4]),
    (148.4,[46.2,45]),(149.2,[44,46]),(150,[42.3,44]),(151.8,[34.5,28.6,29.5]),(153,[41.3,38.4,36,34]),(154.6,[32.5,28.6]),(155.7,[26.1,28,31]),(158.4,[34.5,40.4,36,38]),(159.8,[48.2,47]),(160.8,[45.2,46.5]),(162,[43.3,44.5]),(163.7,[41.3,36.5,42]),(164.8,[31.6,33,35]),
    (166,[35]),(167,[34.5,35.5]),(168.3,[35]),(172.1,[34.5]),(173.5,[38.4,36.5]),(174.5,[49.2,48]),(175,[38.4,40]),(177.4,[50.1,48,40.4,42]),(178.5,[39,41]),(179.7,[29.6,32.5,36.5,31,34]),(180.8,[44.9,52]),(182.4,[62.8,60.5]),(183.3,[59.9,61]),(184.2,[58,59.5]),(188.4,[56.6]),(190.4,[40]),(191,[40.5]),
    (192.7,[53,50.1,51.5]),(194,[59.9,58]),(195,[55,57]),(195.7,[55,53]),(196.8,[58,47.2,46]),(198,[57,45.2,47,49]),(198.6,[64.8,63.5]),(200.2,[71.6,70.5]),(201,[74.5,72]),(201.4,[71,70]),(202.5,[67.7,69]),(203.7,[63.6]),(205.3,[43.7]),(206.2,[53,50]),(209.4,[53]),(211,[48.2,49]),(212.3,[50,48.5]),(213,[60.9,63.2,62]),(214,[68.7]),(215,[71.6]),
    (220,[57.4]),(222.4,[56,52]),(223,[54,47.2,49]),(223.7,[52,49.2,46]),(224.2,[40.4,42.3,41,39.5]),(226.5,[63.8,62]),(227.5,[72.6,71]),(228,[78.5,76,74]),(228.8,[75.5,73]),(231,[62.8]),(232.2,[62.8,63.5]),(234,[51,49]),(235,[48.2,50]),(236,[50,48.5]),(236.8,[51,49.5]),
    (237.9,[57,52]),(238.7,[59,55]),(239.5,[70.7,67.7,64.8,62]),(240.2,[60.9,50.1,68,72]),(242,[56,54]),(243,[46.2,48,53]),(244,[45.2,46]),(244.7,[53,46,51]),(245.9,[60.9,57]),(246.8,[57,60,59]),(247.5,[66.7,64,62]),(248.2,[72.6,76.5,69,74]),
    (249.8,[82.4,80,78]),(250.7,[85,83]),(251.5,[86.3,88,84]),(252.5,[88.8,87,85]),(253.2,[87.3,85,83]),(253.9,[84.3,82.5]),(255,[78.5,75.5,77]),(256.2,[70.7,65.8,68]),(256.8,[59.9,56,58]),(258,[51.1,49.2,50.5]),(259.6,[60.9,58,62.8,59.5]),(261.2,[61.9,60]),
    (265.3,[58,59,57]),(266.4,[63.8,68.7,61,65,66]),(267.6,[72,74,76]),(268.3,[78.5,76.5]),(269,[76.5,78]),(269.9,[74.5,75.5]),(275,[50.1,48.2]),(276.7,[52,54,53]),(279.5,[58.9,56]),(280.8,[58,59]),(282,[56,58]),(283.6,[55,56.5]),(285.4,[59.9,55,58]),
    (287,[41.3,38,36.5,31,43]),(288,[40,37.5,42,45]),(288.6,[37.4,40,44]),(289.5,[43.3,45,48]),(290.4,[49.2,47,50]),(292.2,[47.2,48]),(293.8,[59.9,53,56,50]),(295,[49.2,46.2,51,47.5]),(296.3,[34.5,33]),(297.3,[29.6]),
]

alt_columns = [
    (12.3,[13960]),(13.6,[13901]),(14,[13880]),(15,[13928,13840]),(15.9,[13747]),(16.3,[13707,13640]),(16.8,[13667]),(17,[13600]),(17.8,[13693]),(18.6,[13667]),(18.9,[13293,13272]),(19,[13600,13573]),(19.6,[13299]),(20.5,[13720,13680]),
    (21.6,[13901,13880,13848,13832,13448,13413,13373]),(22.7,[13528,13168]),(22.8,[13779,13752,13733,13707,13688,13667,13645]),(23.9,[13693,13653,13168]),(24.6,[13493,13480,13168]),(27.2,[13173]),(27.9,[13120]),(28.7,[13059]),
    (30.2,[12208,12755]),(30.4,[12227]),(31.7,[12960,12925,12880,12480,12448,12227]),(33.4,[12755,12493,12448]),(40.3,[13275,13240,13200]),(42.7,[13240,13227,13200,13173,13147,13120,13093]),(43.8,[13187,13147]),(44.7,[13133,13080,13053]),(49.4,[13333,13293,13253,13213]),
    (53.5,[12960,12933,12907,12880]),(54.4,[12493,12448]),(55,[12493,12248]),(56.3,[12160]),(59.8,[12987,12752]),(60.2,[12493,12448]),(60.9,[12872,12840,12808,12448,12208]),(66.9,[12248,12173,12072]),(71.9,[12272]),(73,[12040]),(80.2,[12240]),
    (92.9,[12533,12515,12400,12232,12272,12080]),(100.2,[12493]),(101,[12413]),(102,[12720,12688,12632,12600,12467,12360,12288]),(105.4,[12600,12432]),(106.5,[12360,12293,12227,12200,12133]),(112.2,[12299,12387,12533,12515]),(118,[12635,12600,12573,12448,12360,12333,12293,12253]),
    (121.3,[12840,12813]),(123,[12840]),(124.3,[12899]),(126.9,[12307,12280]),(127.8,[12600,12547,12227]),(128.8,[12493]),(129.2,[13093,13067,13040,12960]),(130.4,[12907,12880,12853,12840]),(131.6,[12907,12880,12853,12840,12760,12680]),(132.6,[12907,12880,12853]),(133.4,[12907,12880,12840,12680,12493,12413,12240,12213]),
    (138.7,[13208,13168,13133,13093,13053]),(139.4,[12920,12880,12827,12760,12707,12208]),(140.5,[12613,12560,12520,12360]),(142.4,[13120,13080,13027,12960,12907,12880]),(143.5,[12960,12920,12880,12413]),(147,[12720,12680,12640]),(147.7,[12480,12360,12240,12200]),(148.2,[12080]),(148.5,[12872,12827,12787,12720,12440,12413]),
    (151.8,[13480,13448,13293,13240,13147,13080]),(153,[13293,13240,13173]),(154.5,[13480,13440,13053]),(155.7,[13955,13859,13480,13448,13413,13373,13333,13293,13240,13200,13173,13133,13053]),(158.4,[13208,13147,13093,13053,13013]),(159.5,[12840,12813,12653,12600,12533,12448,12413,12387]),
    (161,[12373,12360,12213,12152]),(162,[12840,12680,12613,12520,12448,12099]),(163.3,[13293,13253,13200,13133,13067]),(163.9,[13480]),(165,[13413,13320,13147,12960]),(165.7,[11835,11800]),(167.6,[13413,13360,13267,13227]),(172.3,[13293,13253,13160]),(176.1,[13360,13320,13200,13120,13080]),
    (178.1,[13387,13307,13227,13147]),(178.8,[13568,13512,13408]),(179.9,[13293,13240,13173,13093]),(181.4,[13120,13053]),(183.4,[13360,13333,13240,13213,13147,13053]),(185,[13053]),(188.3,[12840,12800,12419]),(190.5,[12973,12933,12893]),(190.9,[12493,12448]),(191.7,[12413,12360]),
    (193.5,[12653,12547,12440,12333,12133]),(195,[12760,12653,12547,12440,12333,12208]),(196,[12805,12773,12733,12693,12640,12600,12547,12493,12328,12120]),(197.9,[12653,12600,12547,12480,12413,12280]),(199,[12640,12587,12533]),(201.5,[12507,12253]),(203.3,[12600,12328]),(205.6,[12653,12627]),(206.3,[12328]),
    (210.1,[12880,12840,12800]),(211,[12872,12840,12773,12733]),(212.4,[12693,12667,12640]),(213.5,[12667,12627,12587]),(215.1,[12627,12547,12480]),(222,[13147,13120,13093,13067,12448,12133]),(223,[13208,13027,12987,12947,12893]),(224.5,[13272,13147,13120,13093,13067,13027,12987,12893,12840]),
    (226.7,[12667,12627,12573,12208]),(227.5,[12440,12413,12333]),(229,[12867,12827,12787,12667,12627,12573]),(231.2,[12707,12653,12307,12173]),(234.1,[13093,13000,12920]),(235.8,[12840,12760,12680]),(236.8,[12840,12800,12530]),(238,[12413,12333,12280,12227,12187]),(239.5,[12413,12333,12280,12227,12187]),(241,[12413,12333,12280]),
    (241.8,[12893,12867,12840,12813,12787,12760]),(243,[12893,12867,12840,12813,12787,12760,12413]),(244.8,[12893,12867,12840,12813,12787,12760]),(246,[12413,12520]),(248.6,[13048,12773,12653,12547,12493]),(250.9,[12805,12613,12533]),(253.9,[12787,12653,12547,12307,12160]),(255.6,[12653,12627,12600]),
    (256.9,[13000,12960,12920,12893,12840,12107]),(258.4,[13000,12960,12413,12360]),(260.7,[12840,12800,12760,12707,12653,12413,12387,12173]),(265.5,[12893,12840,12760,12680,12613]),(266.3,[13048,12981]),(268.3,[12680,12600]),(275.5,[12781,13048,12387,12360,12307,12200,12173]),(277,[12760,12733,12707,12680]),
    (278.1,[12240,12120]),(278.8,[12733,12693,12653,12173]),(280.8,[12333,12293]),(281.1,[12720,12680,12640,12600,12173]),(281.9,[12893,12840,12787,12448,12413,12040]),(282.6,[13173,13133,12493,12013]),(283.8,[13293,13213,13173,13133,13093,13053]),
    (287.6,[14032,14013,13987,13955,13213,13160,13093]),(288.6,[13267,13227,13187,13133,13067]),(289.2,[13573,13533,13493,13453,13413,13360]),(294.7,[13840,13805,13760,13413,13387]),(296.7,[14000,14000]),
]
alt_floor_days = [31.1,32,33,34,35.2,55.6,57,58,59,60,61,62,64,66.5,67.7,71.4,72,73,79,80.2,82.8,85.8,87.3,89.1,91.1,91.8,93.4,97.1,100.2,101,101.7,102.7,103.2,104.7,105.4,106.2,107,107.7,108.4,110,111,113.8,116.8,117.5,119,119.8,120.5,121.3,122.8,124.3,126.9,130.4,131.6,133.4,134.5,135.5,138,141,144,147.5,148.8,
                  159.5,160.2,161.3,193.5,194,194.7,195.5,197.9,225.2,227.4,228.9,231,232,234.7,235.4,236.1,236.8,237.5,238.2,238.9,239.6,240.3,241,241.7,242.4,243.1,243.8,244.5,245.2,245.9,246.6,247.3,248,248.7,249.4,250.1,250.8,251.5,252.2,252.9,253.6,254.3,255,255.7,256.4,257.1,257.8,258.5,259.2,259.9,260.6,261.3,264.5,265.5,266.3,267,268,268.7,269.5,270.2,275.8,278.8,279.6,281,281.9,282.6,283.4]
alt_float_days = [20.8,23.1,23.9,24.5,26.4,27.5,28.2,29.2,30,31.7,33.4,37.8,39,40,41.5,43,44.3,46.5,48,49.5,51,52.9,59.8,150,151,152,153,154.5,155.7,158,165,171.6,172.3,173.1,174,174.7,176,178.1,179.9,181.4,182,183.4,188,189.5,190.5,191,282.6,284,285,286,287,288,289,290,291,292,293,294,295,295.8]
alt_mean_day = [11,12.2,13,14,15.1,16.8,18,18.9,19.8,21,23.1,26.1,28.1,28.9,29.9,31.9,34,37.2,37.8,38.7,39.9,41,42,44.1,47,48,49.1,52.9,54.1,54.8,55.9,56.8,57.9,58.9,59.7,61.2,66.2,66.9,67.7,70.7,71.8,79,79.9,82,91.1,92,92.9,96.8,99.8,100.6,101.7,102.7,103.6,104.7,105.7,106.9,111,112.7,113.9,116,116.8,117.5,118.6,119.8,120.8,122.1,123.9,125.1,126.1,127.8,128.9,129.9,131.1,131.9,133.1,134.1,134.9,136,136.9,138.2,139.4,141.4,142,142.7,145.9,147.3,148.2,149.2,150.9,153,155,157.2,158.7,159.9,161,162.5,163.3,164,165.1,167,173.1,175.1,176.4,177.2,178.1,179.9,181.7,182.9,184,186.7,187.9,190.2,190.9,192,192.7,193.9,195,196.8,198,199.5,201,202.2,204.8,205.9,209,210.1,211.3,213.1,214,215.1,219.6,220.7,221.4,222.9,224.1,226.7,229,230.8,232,232.9,234.7,235.8,236.8,238,238.8,239.9,240.8,241.8,243.3,244.1,244.8,246,247.9,248.9,249.7,251.6,254.7,255.7,256.6,258.1,258.9,259.9,261.2,264.9,266.7,267.5,268.7,273.5,275.1,276.9,277.8,278.7,280,281.1,282.9,284.1,285.6,286.7,287.9,288.6,290.6,292.4,293.6,294.7,295.7]
alt_mean_val = [13960,13955,13880,13853,13680,13667,13480,13480,13307,13779,13480,13067,13048,12987,12141,13000,12000,12760,13000,13000,13168,13059,13139,13152,13000,13000,13205,13000,12867,12173,12000,12000,12147,12773,12653,12000,12000,12067,12000,12080,12027,12000,12160,12000,12000,12365,12000,12000,12253,12195,12307,12000,12000,12165,12147,12000,12000,12261,12000,12000,12355,12280,12200,12440,12667,12000,12587,12467,12387,12960,13040,12773,12760,12827,12501,12493,12000,12000,12880,13067,12640,12976,13072,12787,12547,12539,12680,13160,13320,13000,13400,13120,12547,12507,12573,13187,13267,13227,12907,13347,13027,13280,13120,13093,13387,13120,13053,13187,13027,12840,12707,12875,12875,12373,12413,12240,12675,12453,12587,12533,12347,12488,12573,12480,12600,12813,12640,12621,12515,12605,12667,12893,12933,13080,12907,12467,12605,12307,12312,13005,12605,12600,12533,12152,12419,12267,12720,12720,12787,12787,12000,12280,12400,12088,12333,12168,12400,12573,12421,12480,12373,12667,12560,12528,12240,12253,12000,12747,12520,12667,12427,12427,12259,12733,13128,13067,13000,13760,13301,13299,13000,13000,13093,13400,14008]

bin_left = list(range(-100, 100, 5))
u_counts = [0,2,0,0,0,2,0,0,0,0,0,0,0,0,4,11,9,26,55,217,340,285,381,260,258,219,148,81,83,62,38,28,26,13,11,4,7,2,0,2]
v_counts = [0,0,0,0,0,0,0,0,0,0,4,4,15,19,41,66,126,192,208,332,621,357,275,136,68,32,30,21,10,10,2,0,0,0,0,0,0,0,0,0]

# text, font size, colour, centre x, centre y (all in page pixels)
summary_lines = [
    ("Pico Balloon Archive", 22.2, "#1a5276", 1214.5, 51),
    ("Callsign: KE0AKT-TEST   (WSPR)", 19.4, "black", 1214.5, 73.3),
    ("2024-10-12 18:33:56  to  2025-07-26 07:53:57  UTC", 15.2, "black", 1214.5, 94.3),
    ("Time aloft: 286.6 days    Data points: 5873", 15.2, "black", 1214.5, 118),
    ("Altitude: 10360 - 14900 m    (float 4701 h)", 15.2, "black", 1214.5, 141),
    ("Latitude range: 20.15 to 88.52", 15.2, "black", 1214.5, 164),
    ("Path length: 553,173 km", 15.2, "black", 1214.5, 187),
    ("Position source: Maidenhead 6-char grid    σ(E,N) = 4468, 2851 m", 15.2, "black", 1215.5, 210),
    ("Median sampling gap: 10 min    Longest gap: 134.0 h", 15.2, "black", 1214.5, 233),
    ("Data quality score: 0.869", 18, "#1a5276", 1214.5, 257),
    ("precision=0.80   cadence=1.00   agreement=0.99   stability=0.95   coverage=0.68", 12.55, "#555555", 1219, 277.7),
]

RED = "#c0392b"
OCEAN = "#d4e6f1"
LAND = "#e8e8e4"
W, H = 1587, 1189


def to_dates(days):
    return base_date + pd.to_timedelta(days, unit="D")


def flatten(columns):
    xs, ys = [], []
    for day, values in columns:
        for v in values:
            xs.append(day)
            ys.append(v)
    return xs, ys


def outline_xy(outlines):
    xs, ys = [], []
    for shape in outlines:
        xs += [p[0] for p in shape] + [shape[0][0], None]
        ys += [p[1] for p in shape] + [shape[0][1], None]
    return xs, ys


def line_xy(lines):
    xs, ys = [], []
    for line in lines:
        xs += [p[0] for p in line] + [None]
        ys += [p[1] for p in line] + [None]
    return xs, ys


fig = go.Figure()

# flight track map
land_x, land_y = outline_xy(land_outlines)
fig.add_trace(go.Scatter(x=land_x, y=land_y, xaxis="x", yaxis="y", mode="lines", fill="toself", fillcolor=LAND,
                         line=dict(color="#c3c6c6", width=1), showlegend=False, hoverinfo="skip"))
sea_x, sea_y = outline_xy(sea_outlines)
fig.add_trace(go.Scatter(x=sea_x, y=sea_y, xaxis="x", yaxis="y", mode="lines", fill="toself", fillcolor=OCEAN,
                         line=dict(color="#c3c6c6", width=0.7), showlegend=False, hoverinfo="skip"))
bord_x, bord_y = line_xy(border_lines)
fig.add_trace(go.Scatter(x=bord_x, y=bord_y, xaxis="x", yaxis="y", mode="lines",
                         line=dict(color="#dadbd8", width=0.8), showlegend=False, hoverinfo="skip"))
track_x = [p[0] for p in track_points + track_streaks]
track_y = [p[1] for p in track_points + track_streaks]
for lat, lons in track_rows:
    track_x += lons
    track_y += [lat] * len(lons)
fig.add_trace(go.Scatter(x=track_x, y=track_y, xaxis="x", yaxis="y",
                         mode="markers", name="Track", legend="legend",
                         marker=dict(color=RED, size=5, line=dict(width=0))))
fig.add_trace(go.Scatter(x=launch_lon, y=launch_lat, xaxis="x", yaxis="y", mode="markers", name="Launch", legend="legend",
                         marker=dict(color="#27ae60", size=16, symbol="circle", line=dict(color="black", width=1.5))))
fig.add_trace(go.Scatter(x=last_lon, y=last_lat, xaxis="x", yaxis="y", mode="markers", name="Last fix", legend="legend",
                         marker=dict(color="#1f77b4", size=20, symbol="star", line=dict(color="black", width=1.5))))

# wind speed
BAND = "rgba(127,140,141,0.33)"
body_x = [r[0] for r in band_body] + [r[0] for r in band_body][::-1]
body_y = [r[2] for r in band_body] + [r[1] for r in band_body][::-1]
fig.add_trace(go.Scatter(x=to_dates(body_x), y=body_y, xaxis="x2", yaxis="y2", mode="lines", fill="toself",
                         fillcolor=BAND, line=dict(width=0), name="±1σ propagated error",
                         legend="legend2", hoverinfo="skip"))
stripe_x, stripe_y = [], []
for day, low, high in band_rows:
    stripe_x += [base_date + pd.Timedelta(days=day)] * 2 + [None]
    stripe_y += [low, high, None]
fig.add_trace(go.Scatter(x=stripe_x, y=stripe_y, xaxis="x2", yaxis="y2", mode="lines",
                         line=dict(color=BAND, width=2.4), showlegend=False, hoverinfo="skip"))
wind_x, wind_y = flatten(wind_columns)
fig.add_trace(go.Scatter(x=to_dates(wind_x), y=wind_y, xaxis="x2", yaxis="y2", mode="markers", name="Wind speed",
                         legend="legend2", marker=dict(color="#2c3e50", size=4.6, line=dict(width=0))))
fig.add_trace(go.Scatter(x=to_dates(wind_mean_day), y=wind_mean_val, xaxis="x2", yaxis="y2", mode="lines", name="Daily mean",
                         legend="legend2", line=dict(color=RED, width=1.4)))

# latitude
lat_x, lat_y = flatten(lat_columns)
fig.add_trace(go.Scatter(x=to_dates(lat_x), y=lat_y, xaxis="x3", yaxis="y3", mode="markers", showlegend=False,
                         marker=dict(color="black", size=6, line=dict(width=0))))

# altitude
alt_x, alt_y = flatten(alt_columns)
alt_x = alt_x + alt_floor_days + alt_float_days
alt_y = alt_y + [12000] * len(alt_floor_days) + [13000] * len(alt_float_days)
fig.add_trace(go.Scatter(x=to_dates(alt_x), y=alt_y, xaxis="x4", yaxis="y4", mode="markers", showlegend=False,
                         marker=dict(color="#7f8c8d", size=4.4, line=dict(width=0))))
fig.add_trace(go.Scatter(x=to_dates(alt_mean_day), y=alt_mean_val, xaxis="x4", yaxis="y4", mode="lines", showlegend=False,
                         line=dict(color=RED, width=2.2)))

# histogram
bin_center = [b + 2.5 for b in bin_left]
fig.add_trace(go.Bar(x=bin_center, y=u_counts, width=5, xaxis="x5", yaxis="y5", name="U (zonal)", legend="legend3",
                     marker=dict(color="rgba(31,119,180,0.65)", line=dict(color="rgba(0,0,0,0.65)", width=1.1))))
fig.add_trace(go.Bar(x=bin_center, y=v_counts, width=5, xaxis="x5", yaxis="y5", name="V (meridional)", legend="legend3",
                     marker=dict(color="rgba(255,127,14,0.65)", line=dict(color="rgba(0,0,0,0.65)", width=1.1))))

FONT = "DejaVu Sans"
TICK = 13.9
GRID = "rgba(128,128,128,0.25)"
date_range = [to_dates(-3.2), to_dates(311)]
date_vals = [to_dates(d) for d in month_days]


def px_dom(a, b, size):
    return [a / size, b / size]


def y_dom(top, bottom):
    return [1 - bottom / H, 1 - top / H]


def base_axis(**kw):
    d = dict(showline=True, linecolor="black", linewidth=1.1, mirror=True, ticks="outside", ticklen=5, tickwidth=1.1,
             tickcolor="black", tickfont=dict(size=TICK, color="black"), zeroline=False, showgrid=True, gridcolor=GRID, gridwidth=1.1)
    d.update(kw)
    return d


def date_axis(dom, anchor, **kw):
    return base_axis(domain=dom, anchor=anchor, type="date", range=date_range, tickvals=date_vals, ticktext=month_labels,
                     tickangle=-20, ticklabelshift=28, ticklabelstandoff=-8, **kw)


def axis_title(text, standoff):
    return dict(text=text, font=dict(size=TICK, color="black"), standoff=standoff)


left_col = px_dom(83.6, 776.4, W)
right_col = px_dom(868, 1561.3, W)
row1 = y_dom(31.7, 338.3)
row2 = y_dom(420.3, 727.3)
row3 = y_dom(808.3, 1115.3)
map_xticks = [-180, -120, -60, 0, 60, 120, 180]
map_yticks = [-90, -60, -30, 0, 30, 60, 90]

annotations = []
for text, cx, top in [("Flight Track", 430, 31.7), ("Wind Speed vs. Time", 430, 420.3), ("Latitude vs. Time", 1214.6, 420.3),
                      ("Balloon Altitude vs. Time", 430, 808.3), ("U and V Wind Components", 1214.6, 808.3)]:
    annotations.append(dict(text=text, x=cx / W, y=1 - (top - 2) / H, xref="paper", yref="paper", xanchor="center", yanchor="bottom",
                            showarrow=False, font=dict(size=16.67, color="black")))
for text, size, color, xc, yc in summary_lines:
    annotations.append(dict(text=text, x=xc / W, y=1 - yc / H, xref="paper", yref="paper", xanchor="center", yanchor="middle",
                            showarrow=False, font=dict(size=size, color=color)))

# ocean under everything on the map, grid over the land
map_shapes = [dict(type="rect", xref="x", yref="y", x0=-180, x1=180, y0=-90, y1=90, layer="below", fillcolor=OCEAN, line=dict(width=0))]
grid_line = dict(color="rgba(128,128,128,0.28)", width=0.7, dash="3px,2px")
for v in map_xticks[1:-1]:
    map_shapes.append(dict(type="line", xref="x", yref="y", x0=v, x1=v, y0=-90, y1=90, layer="above", line=grid_line))
for v in map_yticks[1:-1]:
    map_shapes.append(dict(type="line", xref="x", yref="y", x0=-180, x1=180, y0=v, y1=v, layer="above", line=grid_line))

legend_style = dict(bgcolor="rgba(255,255,255,0.8)", bordercolor="#cccccc", borderwidth=1, font=dict(size=11, color="black"),
                    itemsizing="trace", tracegroupgap=0, indentation=-6)

fig.update_layout(
    width=W, height=H, margin=dict(l=0, r=0, t=0, b=0, autoexpand=False), autosize=False, paper_bgcolor="white", plot_bgcolor="white",
    font=dict(family=FONT, color="black"), barmode="overlay", hovermode=False,
    annotations=annotations, shapes=map_shapes,
    xaxis=base_axis(domain=left_col, anchor="y", range=[-180, 180], tickvals=map_xticks, showgrid=False, ticklabelstandoff=-3,
                    title=axis_title("Longitude (deg)", 8)),
    yaxis=base_axis(domain=row1, anchor="x", range=[-90, 90], tickvals=map_yticks, showgrid=False, ticklabelstandoff=2,
                    title=axis_title("Latitude (deg)", 4)),
    xaxis2=date_axis(left_col, "y2"),
    yaxis2=base_axis(domain=row2, anchor="x2", range=[0, 126.3], tickvals=[0, 20, 40, 60, 80, 100, 120], ticklabelstandoff=2,
                     title=axis_title("Wind speed (m s<sup>−1</sup>)", 7)),
    xaxis3=date_axis(right_col, "y3"),
    yaxis3=base_axis(domain=row2, anchor="x3", range=[-90, 90], tickvals=map_yticks, ticklabelstandoff=2,
                     title=axis_title("Latitude (deg)", 2)),
    xaxis4=date_axis(left_col, "y4", title=axis_title("UTC date", 14)),
    yaxis4=base_axis(domain=row3, anchor="x4", range=[11688, 14144], tickvals=[12000, 12500, 13000, 13500, 14000], tickformat="d", ticklabelstandoff=2,
                     title=axis_title("Altitude (m AMSL)", 4)),
    xaxis5=base_axis(domain=right_col, anchor="y5", range=[-100, 100], tickvals=[-100, -75, -50, -25, 0, 25, 50, 75, 100], ticklabelstandoff=-1,
                     title=axis_title("Wind speed (m s<sup>−1</sup>)", 10)),
    yaxis5=base_axis(domain=row3, anchor="x5", range=[0, 654], tickvals=[0, 100, 200, 300, 400, 500, 600], ticklabelstandoff=2,
                     title=axis_title("Frequency", 1)),
    legend=dict(x=89.7 / W, y=1 - 337 / H, xanchor="left", yanchor="bottom", **legend_style),
    legend2=dict(x=769.8 / W, y=1 - 423 / H, xanchor="right", yanchor="top", **legend_style),
    legend3=dict(x=1556 / W, y=1 - 814 / H, xanchor="right", yanchor="top", **legend_style),
)

fig.write_html("out.html", config={"displayModeBar": False}, post_script="document.body.style.margin='0';")
